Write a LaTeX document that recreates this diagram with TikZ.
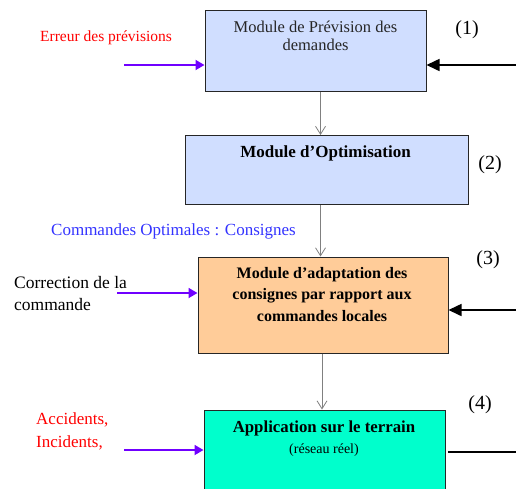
\documentclass[tikz,border=0pt]{standalone}
\usepackage{fontspec}
\setmainfont{Liberation Serif}
\usetikzlibrary{arrows.meta}
\definecolor{boxblue}{RGB}{208,222,255}
\definecolor{boxorange}{RGB}{255,204,153}
\definecolor{boxaqua}{RGB}{0,255,204}
\definecolor{arrpurple}{RGB}{112,0,255}
\definecolor{lblblue}{RGB}{51,51,255}
\definecolor{connGray}{RGB}{128,128,128}
\begin{document}
\begin{tikzpicture}[x=1pt,y=-1pt,
  box/.style={draw=black!85,line width=1pt,inner sep=0pt,minimum width=#1},
  txt/.style={inner sep=0pt,align=center,font=\fontsize{16}{18}\selectfont},
  lbl/.style={inner sep=0pt,align=left,anchor=west,font=\fontsize{15.5}{22}\selectfont},
  num/.style={inner sep=0pt,font=\fontsize{20}{24}\selectfont},
  parrow/.style={draw=arrpurple,line width=1.8pt,-{Triangle[length=9pt,width=10pt]}},
  barrow/.style={draw=black,line width=1.6pt,-{Triangle[length=13pt,width=12pt]}},
  conn/.style={draw=connGray,line width=0.8pt,-{Straight Barb[length=8pt,width=10pt,line width=0.8pt]}}
]
\useasboundingbox (0,0) rectangle (516,488);
\clip (0,0) rectangle (516,488);

% boxes
\node[box=221pt,fill=boxblue,minimum height=81pt] (b1) at (315.5,50.5) {};
\node[box=283pt,fill=boxblue,minimum height=69pt] (b2) at (326.5,170) {};
\node[box=250pt,fill=boxorange,minimum height=96pt] (b3) at (323,305) {};
\node[box=241pt,fill=boxaqua,minimum height=90pt] (b4) at (324.5,455) {};

% box texts
\node[txt,text=black!85,font=\fontsize{16.5}{18}\selectfont] (t1) at (315.5,36) {Module de Prévision des\\demandes};
\node[txt,font=\fontsize{17}{18}\selectfont\bfseries] (t2) at (325.5,153) {Module d’Optimisation};
\node[txt,font=\fontsize{16}{21.5}\selectfont\bfseries] (t3) at (322,294.5) {Module d’adaptation des\\consignes par rapport aux\\commandes locales};
\node[txt,font=\fontsize{16.8}{18}\selectfont\bfseries] (t4a) at (324,428) {Application sur le terrain};
\node[txt,font=\fontsize{14}{16}\selectfont] (t4b) at (324,450) {(réseau réel)};

% numbers
\node[num] (n1) at (467,30) {(1)};
\node[num] (n2) at (490,165) {(2)};
\node[num] (n3) at (488,260) {(3)};
\node[num] (n4) at (480,405) {(4)};

% labels
\node[lbl,text=red] (l1) at (40,38) {Erreur des prévisions};
\node[lbl,text=lblblue,font=\fontsize{17}{22}\selectfont] (l2) at (51,231) {Commandes Optimales : Consignes};
\node[lbl,font=\fontsize{17.5}{22}\selectfont] (l3) at (14,294) {Correction de la\\commande};
\node[lbl,text=red,font=\fontsize{17}{23}\selectfont] (l4) at (36,431.5) {Accidents,\\Incidents,};

% vertical connectors
\coordinate (cxa) at (320.5,0);
\coordinate (cxb) at (322,0);
\draw[conn] (b1.south -| cxa) -- (b2.north -| cxa);
\draw[conn] (b2.south -| cxa) -- (b3.north -| cxa);
\draw[conn] (b3.south -| cxb) -- (b4.north -| cxb);

% left inputs
\coordinate (s1) at (124,65);
\coordinate (s3) at (117,293);
\coordinate (s4) at (124,450);
\draw[parrow] (s1) -- (s1 -| b1.west);
\draw[parrow] (s3) -- (s3 -| b3.west);
\draw[parrow] (s4) -- (s4 -| b4.west);

% right inputs
\coordinate (r1) at (516,65);
\coordinate (r3) at (516,310);
\draw[barrow] (r1) -- (r1 -| b1.east);
\draw[barrow] (r3) -- (r3 -| b3.east);
\coordinate (o4a) at (448,452);
\coordinate (o4b) at (516,452);
\draw[black,line width=1.6pt] (o4a) -- (o4b);
\end{tikzpicture}
\end{document}
